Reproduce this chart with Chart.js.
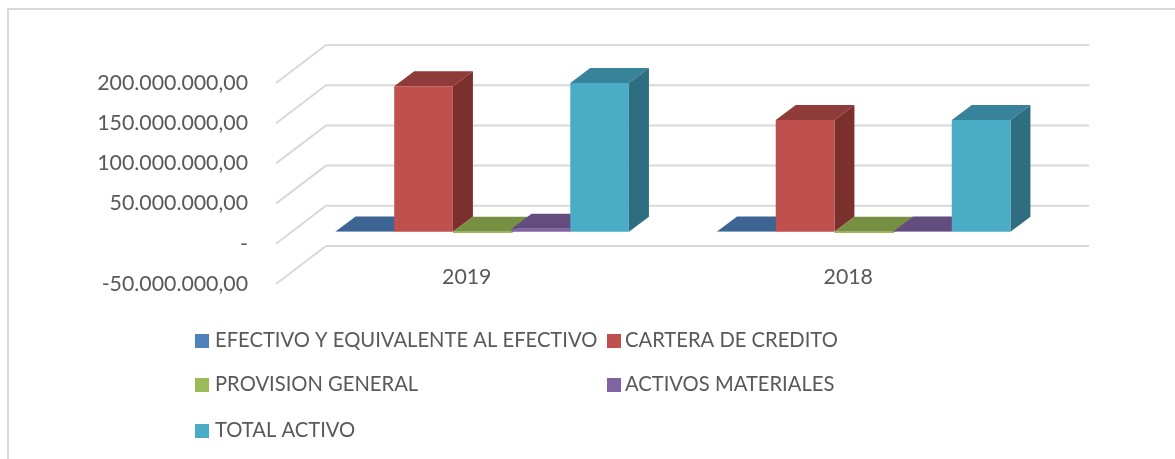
<!DOCTYPE html>
<html>
<head>
<meta charset="utf-8">
<style>
  html, body { margin: 0; padding: 0; background: #fff; }
  #wrap { width: 1175px; height: 459px; }
</style>
<script src="https://cdn.jsdelivr.net/npm/chart.js@4/dist/chart.umd.min.js"></script>
</head>
<body>
<div id="wrap"><canvas id="chart" width="1175" height="459"></canvas></div>
<script>
const categories = ['2019', '2018'];
const seriesNames = ['EFECTIVO Y EQUIVALENTE AL EFECTIVO', 'CARTERA DE CREDITO', 'PROVISION GENERAL', 'ACTIVOS MATERIALES', 'TOTAL ACTIVO'];
const efectivo = [400000, 400000];
const cartera = [181000000, 139000000];
const provision = [-1500000, -1500000];
const materiales = [3700000, 400000];
const totalActivo = [185000000, 139000000];
const seriesValues = [efectivo, cartera, provision, materiales, totalActivo];

const frontColors = ['#4F81BD', '#C0504D', '#9BBB59', '#8064A2', '#4BACC6'];
const topColors = ['#3D6593', '#8F3B39', '#778F41', '#634C7E', '#37839A'];
const sideColors = ['#335580', '#7C302E', '#637A36', '#533F6A', '#2F6D80'];

const FONT = 'Lato, sans-serif';
const TEXT = '#595959';
const GRID = '#D9D9D9';
// depth of the floor and of the bars in the oblique projection
const WALL_DX = 50, WALL_DY = -38;
const BAR_SHIFT_X = 15.5, BAR_SHIFT_Y = -12;
const BAR_DX = 20, BAR_DY = -15;

function formatValue(v) {
    if (v === 0) return '-';
    return v.toLocaleString('es-CO', { minimumFractionDigits: 2, maximumFractionDigits: 2 });
}

function poly(ctx, pts, color) {
    ctx.fillStyle = color;
    ctx.beginPath();
    pts.forEach((p, i) => i ? ctx.lineTo(p[0], p[1]) : ctx.moveTo(p[0], p[1]));
    ctx.closePath();
    ctx.fill();
}

const depthPlugin = {
    id: 'depth',
    beforeDraw(chart) {
        const ctx = chart.ctx;
        // outer frame of the chart object, cut off by the crop on the right and bottom
        ctx.save();
        ctx.strokeStyle = GRID;
        ctx.lineWidth = 2;
        ctx.beginPath();
        ctx.moveTo(8, 459);
        ctx.lineTo(8, 9);
        ctx.lineTo(1175, 9);
        ctx.stroke();
        ctx.restore();
    },
    beforeDatasetsDraw(chart) {
        const ctx = chart.ctx;
        const yScale = chart.scales.y;
        const { left, right } = chart.chartArea;
        ctx.save();
        ctx.strokeStyle = GRID;
        ctx.lineWidth = 2;
        yScale.ticks.forEach(t => {
            const y = yScale.getPixelForValue(t.value);
            ctx.beginPath();
            ctx.moveTo(left, y);
            ctx.lineTo(left + WALL_DX, y + WALL_DY);
            ctx.lineTo(right + WALL_DX, y + WALL_DY);
            ctx.stroke();
        });
        // boxes, painted left to right so each one covers the depth of the one before
        chart.data.datasets.forEach((ds, i) => {
            chart.getDatasetMeta(i).data.forEach(bar => {
                const p = bar.getProps(['x', 'y', 'base', 'width'], true);
                const x0 = p.x - p.width / 2 + BAR_SHIFT_X;
                const x1 = p.x + p.width / 2 + BAR_SHIFT_X;
                const yTop = Math.min(p.y, p.base) + BAR_SHIFT_Y;
                const yBot = Math.max(p.y, p.base) + BAR_SHIFT_Y;
                poly(ctx, [[x0, yTop], [x1, yTop], [x1 + BAR_DX, yTop + BAR_DY], [x0 + BAR_DX, yTop + BAR_DY]], topColors[i]);
                poly(ctx, [[x1, yTop], [x1 + BAR_DX, yTop + BAR_DY], [x1 + BAR_DX, yBot + BAR_DY], [x1, yBot]], sideColors[i]);
                poly(ctx, [[x0, yTop], [x1, yTop], [x1, yBot], [x0, yBot]], frontColors[i]);
            });
        });
        ctx.restore();
    },
    beforeDatasetDraw() {
        return false;
    },
    afterDraw(chart) {
        // two column legend, filled row by row
        const ctx = chart.ctx;
        const colX = [195, 607];
        const textGap = [20, 18];
        const rowY = [341, 385, 431];
        ctx.save();
        ctx.font = '20.2px ' + FONT;
        ctx.textBaseline = 'middle';
        chart.data.datasets.forEach((ds, i) => {
            const col = i % 2;
            const y = rowY[Math.floor(i / 2)];
            ctx.fillStyle = ds.backgroundColor;
            ctx.fillRect(colX[col], y - 7, 14, 14);
            ctx.fillStyle = TEXT;
            ctx.fillText(ds.label, colX[col] + textGap[col], y - 1);
        });
        ctx.restore();
    }
};

new Chart(document.getElementById('chart'), {
    type: 'bar',
    data: {
        labels: categories,
        datasets: seriesNames.map((name, i) => ({
            label: name,
            data: seriesValues[i],
            backgroundColor: frontColors[i]
        }))
    },
    options: {
        responsive: false,
        animation: false,
        layout: { padding: { top: 83, right: 136, left: 0, bottom: 0 } },
        datasets: { bar: { categoryPercentage: 0.769, barPercentage: 1 } },
        scales: {
            x: {
                grid: { display: false },
                border: { display: false },
                // mirror only to drop the clip on the label area, the labels sit above the axis box
                ticks: { color: TEXT, font: { family: FONT, size: 21.3 }, padding: -6, mirror: true },
                afterFit: s => { s.height = 175; }
            },
            y: {
                min: -50000000,
                max: 200000000,
                grid: { display: false },
                border: { display: false },
                afterFit: s => { s.width = 276; },
                ticks: {
                    stepSize: 50000000,
                    color: TEXT,
                    font: { family: FONT, size: 21.3 },
                    padding: 20,
                    labelOffset: 0,
                    callback: v => formatValue(v)
                }
            }
        },
        plugins: {
            legend: { display: false },
            tooltip: { enabled: false },
            title: { display: false }
        }
    },
    plugins: [depthPlugin]
});
</script>
</body>
</html>
